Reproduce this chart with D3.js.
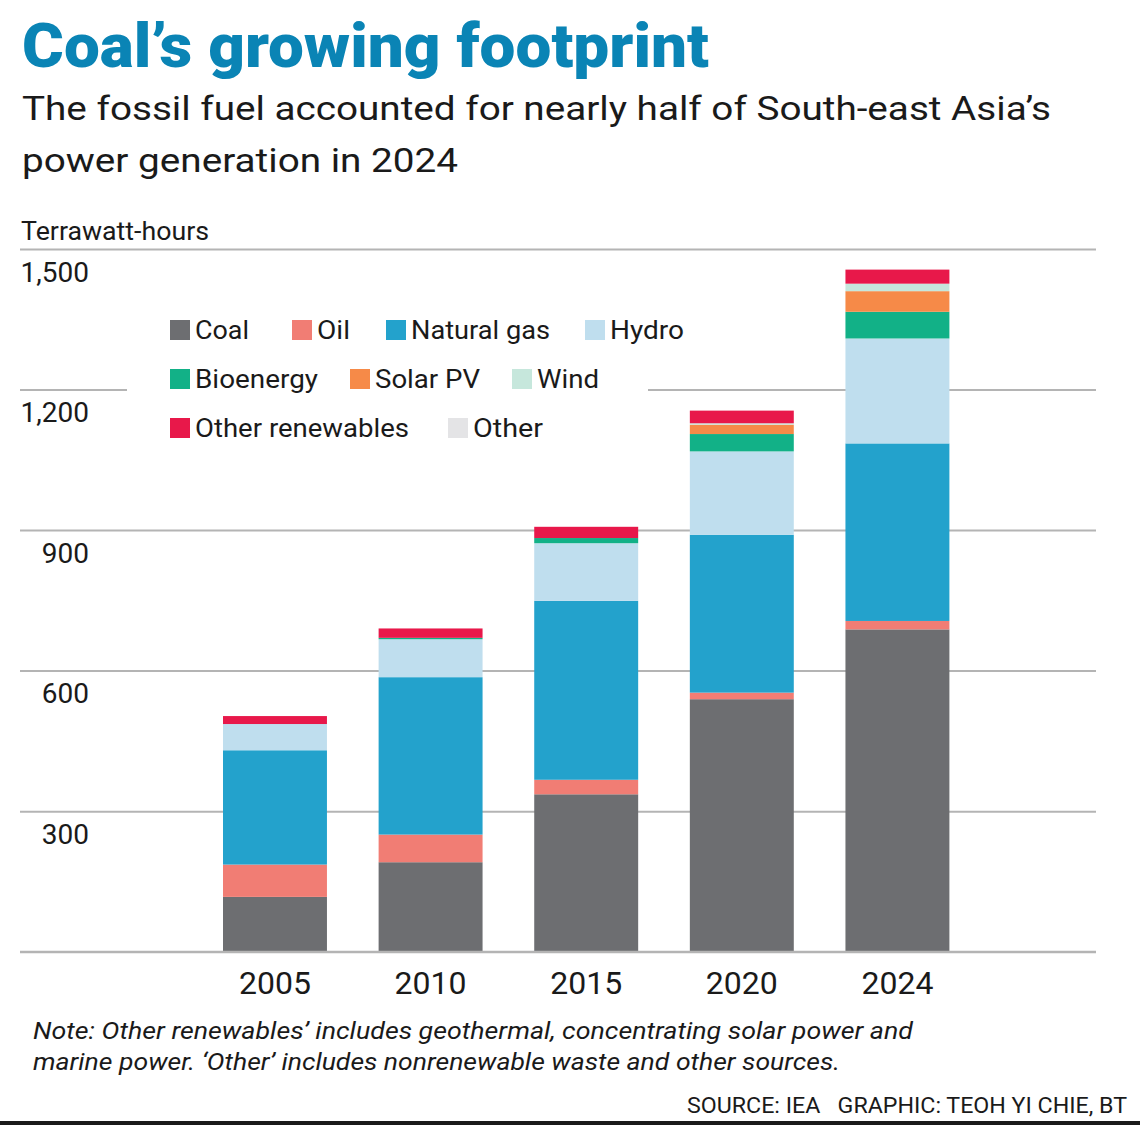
<!DOCTYPE html>
<html>
<head>
<meta charset="utf-8">
<script src="https://cdn.jsdelivr.net/npm/d3@7"></script>
<style>
  html, body { margin: 0; padding: 0; background: #fff; }
  svg { display: block; font-family: Roboto, "Noto Sans", sans-serif; }
</style>
</head>
<body>
<svg id="chart" width="1140" height="1132"></svg>
<script>
// ---- Data (TWh) ----
const years = ["2005", "2010", "2015", "2020", "2024"];
const series = ["Coal", "Oil", "Natural gas", "Hydro", "Bioenergy", "Solar PV", "Wind", "Other renewables", "Other"];
const coal            = [117, 191, 336, 539, 688];
const oil             = [69, 59, 31, 14, 18];
const naturalGas      = [244, 336, 382, 337, 379];
const hydro           = [56, 81, 123, 178, 224];
const bioenergy       = [0, 3, 11, 37, 57];
const solarPV         = [0, 0, 0, 20, 44];
const wind            = [0, 0, 0, 3, 16];
const otherRenewables = [17, 20, 24, 27, 30];
const other           = [0, 0, 0, 0, 0];
const yTicks = [0, 300, 600, 900, 1200, 1500];

const colors = ["#6d6e71", "#f17d74", "#23a2cc", "#bfdeee", "#12b187", "#f68a48", "#c6e7dc", "#e8184a", "#e4e4e6"];

const seriesValues = [coal, oil, naturalGas, hydro, bioenergy, solarPV, wind, otherRenewables, other];
const table = years.map((y, i) => {
  const row = { year: y };
  series.forEach((s, j) => row[s] = seriesValues[j][i]);
  return row;
});

const svg = d3.select("#chart");

// ---- Titles ----
svg.append("text").attr("x", 22).attr("y", 67)
  .attr("font-size", 62).attr("font-weight", 900).attr("fill", "#0a84b5")
  .attr("textLength", 687).attr("lengthAdjust", "spacingAndGlyphs")
  .text("Coal’s growing footprint");
svg.append("text").attr("x", 22).attr("y", 120)
  .attr("font-size", 33).attr("fill", "#1a1a1a")
  .attr("textLength", 1029).attr("lengthAdjust", "spacingAndGlyphs")
  .text("The fossil fuel accounted for nearly half of South-east Asia’s");
svg.append("text").attr("x", 22).attr("y", 172)
  .attr("font-size", 33).attr("fill", "#1a1a1a")
  .attr("textLength", 436).attr("lengthAdjust", "spacingAndGlyphs")
  .text("power generation in 2024");

svg.append("text").attr("x", 21).attr("y", 240)
  .attr("font-size", 26).attr("fill", "#1a1a1a")
  .attr("textLength", 188).attr("lengthAdjust", "spacingAndGlyphs")
  .text("Terrawatt-hours");

// ---- Scales ----
const y = d3.scaleLinear().domain([0, 1500]).range([951.7, 249]);
const x = d3.scaleBand().domain(years).range([223, 949.4]).paddingInner(0.332).paddingOuter(0);

// gridlines via axis
const grid = svg.append("g").attr("transform", "translate(1096,0)")
  .call(d3.axisLeft(y).tickValues(yTicks).tickSize(1076).tickFormat(""));
grid.select(".domain").remove();
grid.selectAll(".tick line").attr("stroke", "#b4b4b4").attr("stroke-width", 2);

// y labels
const ylab = svg.append("g").attr("transform", "translate(89,0)")
  .call(d3.axisLeft(y).tickValues(yTicks.filter(d => d > 0)).tickSize(0).tickFormat(d3.format(",")));
ylab.select(".domain").remove();
ylab.selectAll(".tick text").attr("x", 0).attr("dy", "0").attr("y", 32)
  .attr("font-size", 28).attr("font-family", "Roboto, sans-serif").attr("fill", "#1a1a1a")
  .attr("text-anchor", "end");

// ---- Bars ----
const stack = d3.stack().keys(series)(table);
svg.append("g").selectAll("g").data(stack).join("g")
  .attr("fill", (d, i) => colors[i])
  .selectAll("rect").data(d => d).join("rect")
  .attr("x", d => x(d.data.year))
  .attr("width", x.bandwidth())
  .attr("y", d => y(d[1]))
  .attr("height", d => Math.max(0, y(d[0]) - y(d[1])));

// redraw baseline on top
svg.append("line").attr("x1", 20).attr("x2", 1096).attr("y1", y(0)).attr("y2", y(0))
  .attr("stroke", "#b4b4b4").attr("stroke-width", 2);

// x labels
const xa = svg.append("g").attr("transform", `translate(0,${y(0)})`)
  .call(d3.axisBottom(x).tickSize(0));
xa.select(".domain").remove();
xa.selectAll(".tick text").attr("y", 42).attr("dy", 0)
  .attr("font-size", 32).attr("font-family", "Roboto, sans-serif").attr("fill", "#1a1a1a");

// ---- Legend ----
const legend = svg.append("g");
legend.append("rect").attr("x", 127).attr("y", 292).attr("width", 521).attr("height", 160).attr("fill", "#fff");
const legPos = [
  [170, 330], [292, 330], [386, 330], [585, 330],
  [170, 379], [350, 379], [512, 379],
  [170, 428], [448, 428]
];
const legWidths = [54, 33, 139, 74, 123, 105, 62, 214, 70];
series.forEach((s, i) => {
  const [lx, ly] = legPos[i];
  legend.append("rect").attr("x", lx).attr("y", ly - 10).attr("width", 20).attr("height", 20).attr("fill", colors[i]);
  legend.append("text").attr("x", lx + 25).attr("y", ly + 9)
    .attr("font-size", 26).attr("fill", "#1a1a1a")
    .attr("textLength", legWidths[i]).attr("lengthAdjust", "spacingAndGlyphs")
    .text(s);
});

// ---- Notes ----
svg.append("text").attr("x", 33).attr("y", 1039)
  .attr("font-size", 24).attr("font-style", "italic").attr("fill", "#1a1a1a")
  .attr("textLength", 880).attr("lengthAdjust", "spacingAndGlyphs")
  .text("Note: Other renewables’ includes geothermal, concentrating solar power and");
svg.append("text").attr("x", 33).attr("y", 1070)
  .attr("font-size", 24).attr("font-style", "italic").attr("fill", "#1a1a1a")
  .attr("textLength", 807).attr("lengthAdjust", "spacingAndGlyphs")
  .text("marine power. ‘Other’ includes nonrenewable waste and other sources.");
svg.append("text").attr("x", 1127).attr("y", 1113).attr("text-anchor", "end")
  .attr("font-size", 22).attr("fill", "#1a1a1a").style("white-space", "pre")
  .attr("textLength", 440).attr("lengthAdjust", "spacingAndGlyphs")
  .text("SOURCE: IEA   GRAPHIC: TEOH YI CHIE, BT");
svg.append("rect").attr("x", 0).attr("y", 1121).attr("width", 1140).attr("height", 4).attr("fill", "#1a1a1a");
</script>
</body>
</html>
